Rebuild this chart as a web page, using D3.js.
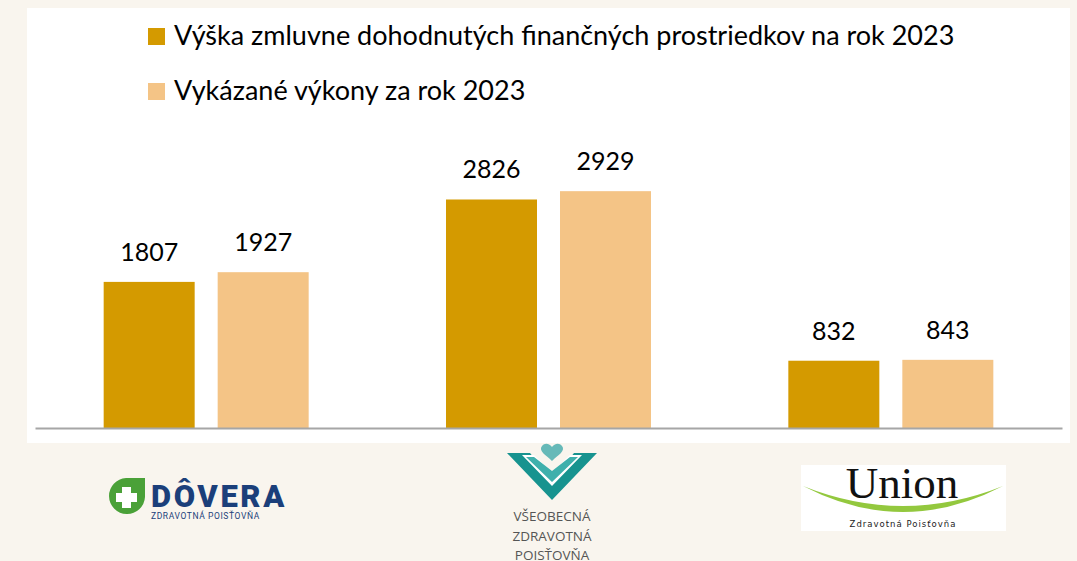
<!DOCTYPE html>
<html>
<head>
<meta charset="utf-8">
<script src="https://cdn.jsdelivr.net/npm/d3@7"></script>
<style>
  body { margin: 0; background: #f9f5ee; }
  svg { display: block; }
</style>
</head>
<body>
<script>
// Data
const insurers = ["Dôvera", "VšZP", "Union"];
const seriesNames = [
  "Výška zmluvne dohodnutých finančných prostriedkov na rok 2023",
  "Vykázané výkony za rok 2023"
];
const contracted = [1807, 2826, 832];
const reported = [1927, 2929, 843];
const seriesColors = ["#d49a00", "#f4c486"];

// Canvas setup
const canvasWidth = 1077;
const canvasHeight = 561;

const svg = d3.select("body")
  .append("svg")
  .attr("width", canvasWidth)
  .attr("height", canvasHeight);

// white chart panel
svg.append("rect")
  .attr("x", 27).attr("y", 8)
  .attr("width", 1043).attr("height", 435)
  .attr("fill", "#ffffff");

const plot = { left: 35, right: 1062, top: 145, bottom: 428 };

let xScale = d3.scaleBand()
  .domain(insurers)
  .range([plot.left, plot.right]);

let yScale = d3.scaleLinear()
  .domain([0, 3500])
  .range([plot.bottom, plot.top]);

const barW = 91, gap = 23;

const series = [contracted, reported];
series.forEach((vals, s) => {
  const g = svg.append("g").classed("series-" + s, true);
  const xOf = (d, i) => xScale(insurers[i]) + xScale.bandwidth() / 2 - barW - gap / 2 + s * (barW + gap);
  g.selectAll("rect")
    .data(vals)
    .join("rect")
    .attr("x", xOf)
    .attr("y", d => yScale(d))
    .attr("width", barW)
    .attr("height", d => yScale(0) - yScale(d))
    .attr("fill", seriesColors[s]);
  g.selectAll("text")
    .data(vals)
    .join("text")
    .attr("x", (d, i) => xOf(d, i) + barW / 2)
    .attr("y", d => yScale(d) - 21)
    .attr("text-anchor", "middle")
    .attr("font-family", "Lato, 'Open Sans', sans-serif")
    .attr("font-size", 25)
    .attr("fill", "#000")
    .text(d => d);
});

// baseline axis
svg.append("g")
  .attr("transform", `translate(0,${plot.bottom})`)
  .call(d3.axisBottom(xScale).tickSize(0).tickFormat(""))
  .call(g => g.select(".domain").attr("stroke", "#a6a6a6").attr("stroke-width", 2));

// legend
const legend = svg.append("g").attr("font-family", "Lato, 'Open Sans', sans-serif");
seriesNames.forEach((name, i) => {
  const y = 28 + i * 55;
  legend.append("rect")
    .attr("x", 148).attr("y", y)
    .attr("width", 17).attr("height", 17)
    .attr("fill", seriesColors[i]);
  legend.append("text")
    .attr("x", 174).attr("y", y + 17)
    .attr("font-size", 27)
    .attr("fill", "#000")
    .text(name);
});

// logos
const logos = svg.append("g");

// Dôvera
const dov = logos.append("g").attr("transform", "translate(108,478)");
dov.append("path")
  .attr("d", "M18,0 H37 V19 A18,18 0 1 1 18,0 Z")
  .attr("fill", "#4aa138");
dov.append("path")
  .attr("d", "M14,9 H23 V15 H29 V24 H23 V30 H14 V24 H8 V15 H14 Z")
  .attr("fill", "#ffffff");
dov.append("text")
  .attr("x", 43).attr("y", 29)
  .attr("font-family", "Roboto, sans-serif")
  .attr("font-weight", 900)
  .attr("font-size", 31)
  .attr("letter-spacing", 2.6)
  .attr("fill", "#1b3f7a")
  .text("DÔVERA");
dov.append("text")
  .attr("x", 43).attr("y", 41)
  .attr("font-family", "Roboto, sans-serif")
  .attr("font-size", 8.5)
  .attr("fill", "#1b3f7a")
  .attr("letter-spacing", 0.6)
  .text("ZDRAVOTNÁ POISŤOVŇA");

// VšZP
const vs = logos.append("g").attr("transform", "translate(552,0)");
vs.append("path")
  .attr("d", "M0,461 C-6,455 -14,451 -10,446 C-7,442 -2,444 0,447 C2,444 7,442 10,446 C14,451 6,455 0,461 Z")
  .attr("fill", "#66b9b8");
vs.append("path")
  .attr("d", "M-45,453 L-22,453 L0,480 L22,453 L45,453 L0,500 Z")
  .attr("fill", "#17938f");
vs.append("path")
  .attr("d", "M-30,455 L-18,455 L0,473 L18,455 L30,455 L0,486 Z")
  .attr("fill", "#ffffff");
vs.append("path")
  .attr("d", "M-26,457 L-18,457 L0,471 L18,457 L26,457 L0,482 Z")
  .attr("fill", "#3fb0ac");
["VŠEOBECNÁ", "ZDRAVOTNÁ", "POISŤOVŇA"].forEach((t, i) => {
  vs.append("text")
    .attr("x", 0).attr("y", 521 + i * 19.5)
    .attr("text-anchor", "middle")
    .attr("font-family", "'Open Sans', sans-serif")
    .attr("font-size", 13.5)
    .attr("fill", "#555555")
    .text(t);
});

// Union
const un = logos.append("g");
un.append("rect")
  .attr("x", 801).attr("y", 465)
  .attr("width", 205).attr("height", 66)
  .attr("fill", "#ffffff");
un.append("path")
  .attr("d", "M803,486 Q903,538 1003,486 Q903,526 803,486 Z")
  .attr("fill", "#93c83e");
un.append("text")
  .attr("x", 902).attr("y", 498)
  .attr("text-anchor", "middle")
  .attr("font-family", "'Liberation Serif', serif")
  .attr("font-size", 45)
  .attr("fill", "#111")
  .text("Union");
un.append("text")
  .attr("x", 903).attr("y", 527)
  .attr("text-anchor", "middle")
  .attr("font-family", "'DejaVu Sans', sans-serif")
  .attr("font-size", 8.5)
  .attr("letter-spacing", 1)
  .attr("fill", "#222")
  .text("Zdravotná Poisťovňa");
</script>
</body>
</html>
